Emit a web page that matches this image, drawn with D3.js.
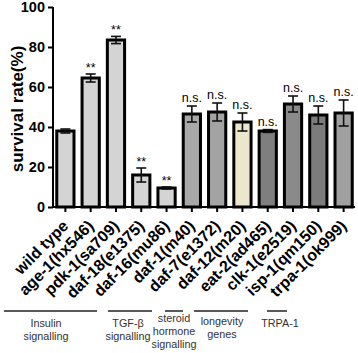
<!DOCTYPE html>
<html>
<head>
<meta charset="utf-8">
<script src="https://cdn.jsdelivr.net/npm/d3@7"></script>
<style>
  body { margin: 0; background: #fff; }
  text { font-family: "Liberation Sans", Arial, sans-serif; }
  .axis path, .axis line { stroke: #000; stroke-width: 2; }
  .axis text { font-size: 14.5px; font-weight: bold; fill: #000; }
  .xlab { font-size: 16px; font-weight: bold; }
  .sig { font-size: 12.5px; }
  .group text { font-size: 10.8px; fill: #333; }
</style>
</head>
<body>
<div id="chart"></div>
<script>
const strains = ["wild type", "age-1(hx546)", "pdk-1(sa709)", "daf-18(e1375)", "daf-16(mu86)",
  "daf-1(m40)", "daf-7(e1372)", "daf-12(m20)", "eat-2(ad465)", "clk-1(e2519)", "isp-1(qm150)", "trpa-1(ok999)"];
const survival = [38, 64.5, 83.5, 16, 9.5, 46.5, 47.5, 42.5, 38, 51.5, 46, 47];
const errors = [1, 2, 1.8, 3.5, 0.5, 4, 4.5, 4.5, 0.7, 4, 4.5, 6.5];
const signif = ["", "**", "**", "**", "**", "n.s.", "n.s.", "n.s.", "n.s.", "n.s.", "n.s.", "n.s."];
const fills = ["#d4d4d4", "#d4d4d4", "#d4d4d4", "#d4d4d4", "#d4d4d4",
  "#a8a8a8", "#a3a3a3", "#ebe6cc", "#7f7f7f", "#8a8a8a", "#7c7c7c", "#a0a0a0"];
const yTicks = [0, 20, 40, 60, 80, 100];
const groups = [
  { lines: ["Insulin", "signalling"] },
  { lines: ["TGF-β", "signalling"] },
  { lines: ["steroid", "hormone", "signalling"] },
  { lines: ["longevity", "genes"] },
  { lines: ["TRPA-1"] }
];
// group line extents (pixel x)
const groupLines = [[4, 97], [108, 152], [165, 183], [194, 248], [267, 287]];
const groupTextX = [46, 128, 174, 222, 280];
const groupTextY = [327, 327, 322, 325, 327];

const width = 358, height = 353;
const mLeft = 53, mRight = 355, mTop = 7, mBottom = 207;

const svg = d3.select("#chart").append("svg")
  .attr("width", width).attr("height", height);

const x = d3.scaleBand().domain(strains)
  .range([mLeft + 1, mRight]).paddingInner(0.2).paddingOuter(0.05);
const y = d3.scaleLinear().domain([0, 100]).range([mBottom, mTop]);

// bars
svg.selectAll(".bar").data(strains).enter()
  .append("rect")
  .attr("x", d => x(d) + 1.5)
  .attr("width", x.bandwidth() - 3)
  .attr("y", (d, i) => y(survival[i]))
  .attr("height", (d, i) => mBottom - y(survival[i]))
  .attr("fill", (d, i) => fills[i])
  .attr("stroke", "#000")
  .attr("stroke-width", 3);

// error bars
const eb = svg.selectAll(".err").data(strains).enter().append("g")
  .attr("transform", d => `translate(${x(d) + x.bandwidth() / 2},0)`);
eb.append("line")
  .attr("y1", (d, i) => y(survival[i] + errors[i]))
  .attr("y2", (d, i) => y(survival[i] - errors[i]))
  .attr("stroke", "#111").attr("stroke-width", 1.6);
eb.append("line").attr("x1", -5).attr("x2", 5)
  .attr("y1", (d, i) => y(survival[i] + errors[i]))
  .attr("y2", (d, i) => y(survival[i] + errors[i]))
  .attr("stroke", "#111").attr("stroke-width", 1.6);
eb.append("line").attr("x1", -5).attr("x2", 5)
  .attr("y1", (d, i) => y(survival[i] - errors[i]))
  .attr("y2", (d, i) => y(survival[i] - errors[i]))
  .attr("stroke", "#111").attr("stroke-width", 1.6);
eb.append("text").attr("class", "sig")
  .attr("text-anchor", "middle")
  .attr("y", (d, i) => y(survival[i] + errors[i]) - (signif[i] === "**" ? 2 : 4))
  .text((d, i) => signif[i]);

// y axis
svg.append("g").attr("class", "axis")
  .attr("transform", `translate(${mLeft},0)`)
  .call(d3.axisLeft(y).tickValues(yTicks).tickSize(5).tickPadding(3))
  .call(g => g.select(".domain").attr("d", `M0,${mTop}V${mBottom}`));

// x axis
const xa = svg.append("g").attr("class", "axis")
  .attr("transform", `translate(0,${mBottom})`)
  .call(d3.axisBottom(x).tickSize(5).tickFormat(""));
xa.select(".domain").attr("d", `M${mLeft},0H${mRight}`);

svg.selectAll(".xlab").data(strains).enter()
  .append("text").attr("class", "xlab")
  .attr("text-anchor", "end")
  .attr("transform", d => `translate(${x(d) + x.bandwidth() / 2 + 4},${mBottom + 20}) rotate(-45)`)
  .text(d => d);

// y title
svg.append("text")
  .attr("transform", `translate(23,${(mTop + mBottom) / 2 + 2}) rotate(-90)`)
  .attr("text-anchor", "middle")
  .style("font-size", "17px").style("font-weight", "bold")
  .text("survival rate(%)");

// groups
const gg = svg.selectAll(".group").data(groups).enter().append("g").attr("class", "group");
gg.append("line")
  .attr("x1", (d, i) => groupLines[i][0]).attr("x2", (d, i) => groupLines[i][1])
  .attr("y1", 311).attr("y2", 311)
  .attr("stroke", "#222").attr("stroke-width", 1.5);
gg.each(function (d, i) {
  d3.select(this).selectAll("text").data(d.lines).enter().append("text")
    .attr("x", groupTextX[i])
    .attr("y", (t, j) => groupTextY[i] + j * 13)
    .attr("text-anchor", "middle")
    .text(t => t);
});
</script>
</body>
</html>
